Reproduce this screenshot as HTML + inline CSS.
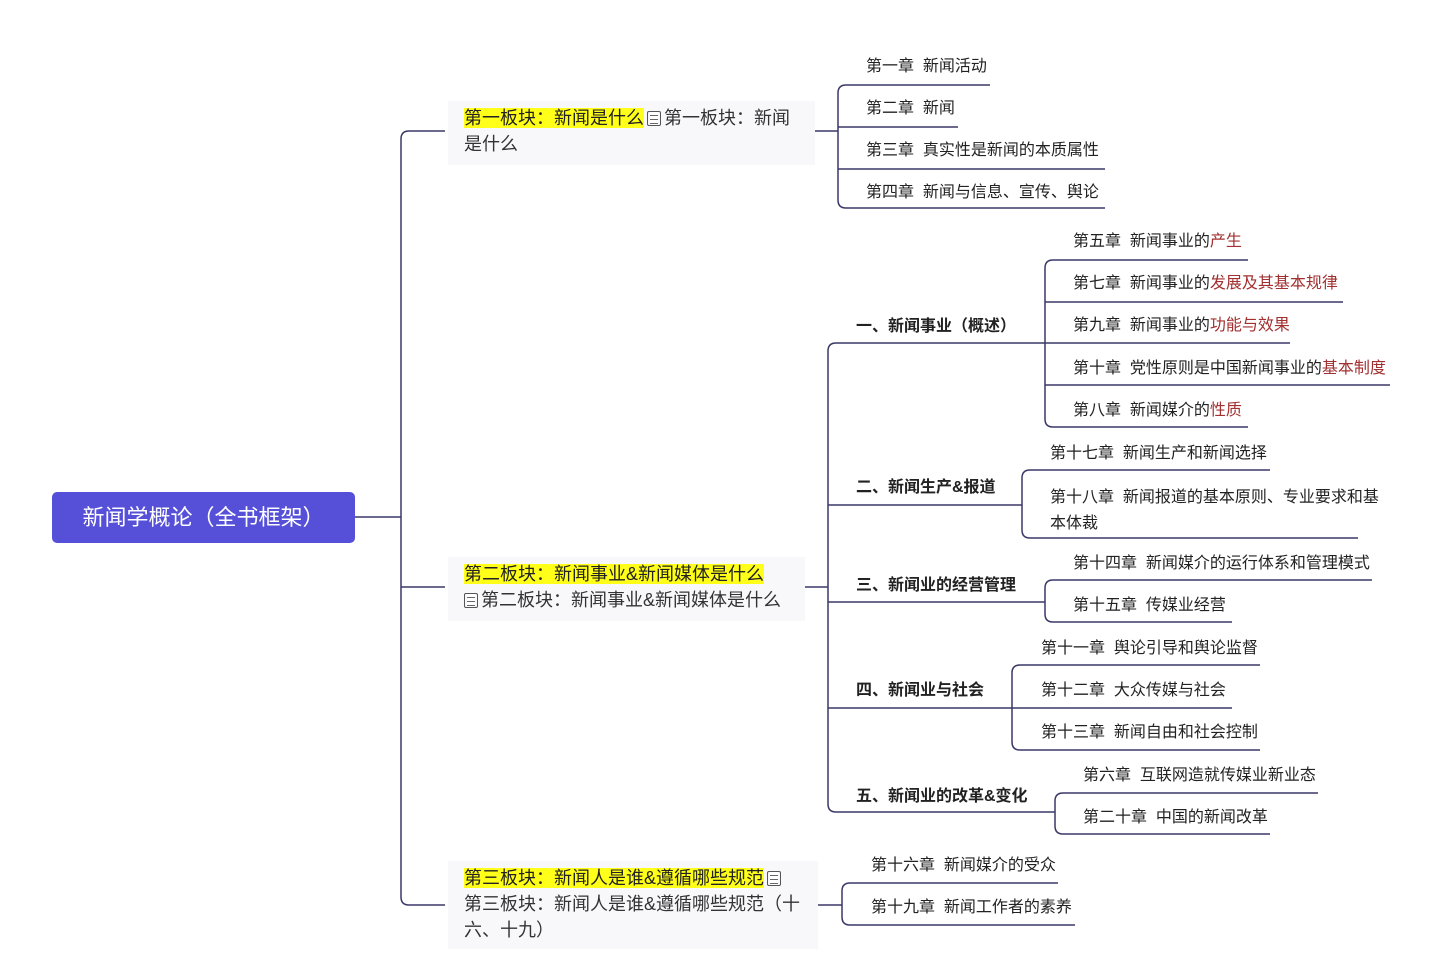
<!DOCTYPE html>
<html><head><meta charset="utf-8">
<style>
html,body{margin:0;padding:0;background:#fff;}
body{width:1440px;height:974px;position:relative;overflow:hidden;font-family:"Liberation Sans","Noto Sans CJK SC",sans-serif;color:#222;}
.t{position:absolute;font-size:16px;line-height:20px;white-space:nowrap;margin-top:1px;}
.b{font-weight:bold;}
.r{color:#a23030;}
.n{position:absolute;background:#f8f8fb;font-size:18px;line-height:26px;color:#333;padding:4px 16px;box-sizing:border-box;}
.hl{background:#ffff1a;color:#222;}
.ic{display:inline-block;width:12px;height:13px;border:1px solid #555;border-radius:2px;vertical-align:-2px;margin:0 3px;background:repeating-linear-gradient(#fff 0 3px,#666 3px 4px);background-size:8px 13px;background-position:2px 0;background-repeat:repeat-y;}
.root{position:absolute;left:52px;top:492px;width:303px;height:51px;background:#5650d8;border-radius:5px;color:#fff;font-size:22px;line-height:51px;text-align:center;}
svg{position:absolute;left:0;top:0;}
</style></head><body>
<svg width="1440" height="974" fill="none" stroke="#3a3868" stroke-width="1.5">
<path d="M355 517 H401"/>
<path d="M445 131 H409 Q401 131 401 139 V897 Q401 905 409 905 H445"/>
<path d="M401 587 H445"/>
<path d="M815 131 H838"/>
<path d="M990 85 H846 Q838 85 838 93 V200 Q838 208 846 208 H1105"/>
<path d="M838 127 H958 M838 169 H1105"/>
<path d="M805 587 H828"/>
<path d="M1045 343 H836 Q828 343 828 351 V804 Q828 812 836 812 H1055"/>
<path d="M828 505 H1022 M828 602 H1045 M828 708 H1012"/>
<path d="M1248 260 H1053 Q1045 260 1045 268 V419 Q1045 427 1053 427 H1248"/>
<path d="M1045 302 H1343 M1045 343 H1290 M1045 385 H1390"/>
<path d="M1270 470 H1030 Q1022 470 1022 478 V530 Q1022 538 1030 538 H1358"/>
<path d="M1372 580 H1053 Q1045 580 1045 588 V614 Q1045 622 1053 622 H1232"/>
<path d="M1260 665 H1020 Q1012 665 1012 673 V742 Q1012 750 1020 750 H1260"/>
<path d="M1012 708 H1232"/>
<path d="M1318 793 H1063 Q1055 793 1055 801 V826 Q1055 834 1063 834 H1270"/>
<path d="M818 905 H842"/>
<path d="M1058 883 H850 Q842 883 842 891 V917 Q842 925 850 925 H1075"/>
</svg>

<div class="root">新闻学概论（全书框架）</div>

<div class="n" style="left:448px;top:101px;width:367px;height:64px;"><span class="hl">第一板块：新闻是什么</span><span class="ic"></span>第一板块：新闻<br>是什么</div>
<div class="n" style="left:448px;top:557px;width:357px;height:64px;"><span class="hl">第二板块：新闻事业&amp;新闻媒体是什么</span><br><span class="ic" style="margin-left:0"></span>第二板块：新闻事业&amp;新闻媒体是什么</div>
<div class="n" style="left:448px;top:861px;width:370px;height:88px;"><span class="hl">第三板块：新闻人是谁&amp;遵循哪些规范</span><span class="ic"></span><br>第三板块：新闻人是谁&amp;遵循哪些规范（十<br>六、十九）</div>

<div class="t" style="left:866px;top:56px;">第一章&nbsp; 新闻活动</div>
<div class="t" style="left:866px;top:98px;">第二章&nbsp; 新闻</div>
<div class="t" style="left:866px;top:140px;">第三章&nbsp; 真实性是新闻的本质属性</div>
<div class="t" style="left:866px;top:182px;">第四章&nbsp; 新闻与信息、宣传、舆论</div>

<div class="t b" style="left:856px;top:316px;">一、新闻事业（概述）</div>
<div class="t b" style="left:856px;top:477px;">二、新闻生产&amp;报道</div>
<div class="t b" style="left:856px;top:575px;">三、新闻业的经营管理</div>
<div class="t b" style="left:856px;top:680px;">四、新闻业与社会</div>
<div class="t b" style="left:856px;top:786px;">五、新闻业的改革&amp;变化</div>

<div class="t" style="left:1073px;top:231px;">第五章&nbsp; 新闻事业的<span class="r">产生</span></div>
<div class="t" style="left:1073px;top:273px;">第七章&nbsp; 新闻事业的<span class="r">发展及其基本规律</span></div>
<div class="t" style="left:1073px;top:315px;">第九章&nbsp; 新闻事业的<span class="r">功能与效果</span></div>
<div class="t" style="left:1073px;top:358px;">第十章&nbsp; 党性原则是中国新闻事业的<span class="r">基本制度</span></div>
<div class="t" style="left:1073px;top:400px;">第八章&nbsp; 新闻媒介的<span class="r">性质</span></div>

<div class="t" style="left:1050px;top:443px;">第十七章&nbsp; 新闻生产和新闻选择</div>
<div class="t" style="left:1050px;top:484px;line-height:26px;">第十八章&nbsp; 新闻报道的基本原则、专业要求和基<br>本体裁</div>

<div class="t" style="left:1073px;top:553px;">第十四章&nbsp; 新闻媒介的运行体系和管理模式</div>
<div class="t" style="left:1073px;top:595px;">第十五章&nbsp; 传媒业经营</div>

<div class="t" style="left:1041px;top:638px;">第十一章&nbsp; 舆论引导和舆论监督</div>
<div class="t" style="left:1041px;top:680px;">第十二章&nbsp; 大众传媒与社会</div>
<div class="t" style="left:1041px;top:722px;">第十三章&nbsp; 新闻自由和社会控制</div>

<div class="t" style="left:1083px;top:765px;">第六章&nbsp; 互联网造就传媒业新业态</div>
<div class="t" style="left:1083px;top:807px;">第二十章&nbsp; 中国的新闻改革</div>

<div class="t" style="left:871px;top:855px;">第十六章&nbsp; 新闻媒介的受众</div>
<div class="t" style="left:871px;top:897px;">第十九章&nbsp; 新闻工作者的素养</div>
</body></html>
